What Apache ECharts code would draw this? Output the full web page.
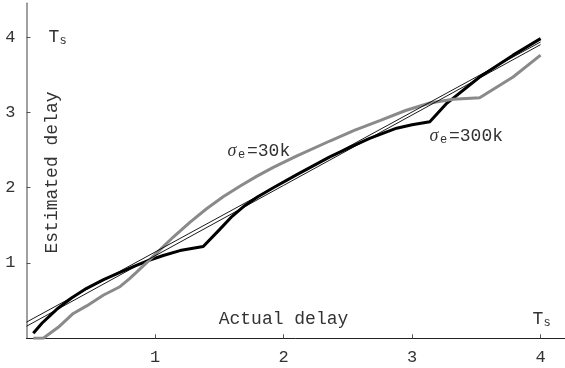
<!DOCTYPE html>
<html>
<head>
<meta charset="utf-8">
<script src="https://cdn.jsdelivr.net/npm/echarts@6/dist/echarts.min.js"></script>
<style>html,body{margin:0;padding:0;background:#fff}#c{width:565px;height:368px}</style>
</head>
<body>
<div id="c"></div>
<script>
// ---- data ----
var xTickValues = [1, 2, 3, 4];
var yTickValues = [1, 2, 3, 4];

var black300k = [
  [0.053, 0.066], [0.12, 0.2], [0.235, 0.385], [0.35, 0.535], [0.468, 0.664], [0.6, 0.78],
  [0.727, 0.875], [0.85, 0.965], [0.96, 1.04], [1.064, 1.1], [1.194, 1.165], [1.375, 1.218],
  [1.5, 1.44], [1.6, 1.62], [1.7, 1.765], [1.8, 1.88], [1.92, 2.0], [2.1, 2.17],
  [2.23, 2.29], [2.36, 2.41], [2.52, 2.54], [2.67, 2.655], [2.88, 2.79], [3.0, 2.835],
  [3.138, 2.876], [3.27, 3.12], [3.526, 3.47], [3.786, 3.76], [4.0, 3.98]
];
var gray30k = [
  [0.053, 0.0], [0.13, 0.0], [0.247, 0.146], [0.364, 0.33], [0.468, 0.43], [0.6, 0.575],
  [0.727, 0.685], [0.8, 0.79], [0.857, 0.88], [0.935, 1.005], [1.038, 1.175], [1.142, 1.345],
  [1.271, 1.54], [1.401, 1.72], [1.53, 1.88], [1.66, 2.02], [1.79, 2.15], [1.92, 2.27],
  [2.1, 2.42], [2.36, 2.62], [2.55, 2.76], [2.749, 2.89], [2.95, 3.025], [3.138, 3.125],
  [3.32, 3.175], [3.526, 3.195], [3.786, 3.47], [4.0, 3.76]
];
var fitA = [[0, 0.215], [4, 3.935]];
var fitB = [[0, 0.16], [4, 3.9]];

var axisLabelText = 'Actual delay';
var valueLabelText = 'Estimated delay';
var mono = '"Liberation Mono", "DejaVu Sans Mono", monospace';

var chart = echarts.init(document.getElementById('c'), null, {renderer: 'canvas'});

function txt(x, y, s, size, opts) {
  opts = opts || {};
  return {
    type: 'text', x: x, y: y, rotation: opts.rot || 0, z: 100,
    style: {
      text: s, fontFamily: opts.font || mono, fontSize: size,
      fontStyle: opts.italic ? 'italic' : 'normal',
      fill: opts.fill || '#333', align: opts.align || 'left', verticalAlign: 'middle'
    }
  };
}

chart.setOption({
  animation: false,
  backgroundColor: '#fff',
  grid: {left: 26.5, right: 0, top: 3.2, bottom: 29.7, containLabel: false},
  xAxis: {
    type: 'value', min: 0, max: 4.19, interval: 1,
    axisLine: {show: true, onZero: false, lineStyle: {color: '#222', width: 1}},
    axisTick: {show: true, inside: true, length: 4, customValues: xTickValues, lineStyle: {color: '#555'}},
    axisLabel: {show: true, customValues: xTickValues, margin: 11, fontFamily: mono, fontSize: 17, color: '#333'},
    splitLine: {show: false}
  },
  yAxis: {
    type: 'value', min: 0, max: 4.45, interval: 1,
    axisLine: {show: true, onZero: false, lineStyle: {color: '#808080', width: 1.5}},
    axisTick: {show: true, inside: true, length: 4, customValues: yTickValues, lineStyle: {color: '#555'}},
    axisLabel: {show: true, customValues: yTickValues, margin: 11, fontFamily: mono, fontSize: 17, color: '#333'},
    splitLine: {show: false}
  },
  series: [
    {type: 'line', data: black300k, showSymbol: false, lineStyle: {color: '#000', width: 3}, z: 2},
    {type: 'line', data: gray30k, showSymbol: false, lineStyle: {color: '#8a8a8a', width: 3}, z: 3},
    {type: 'line', data: fitA, showSymbol: false, lineStyle: {color: '#000', width: 0.9}, z: 4},
    {type: 'line', data: fitB, showSymbol: false, lineStyle: {color: '#000', width: 0.9}, z: 4}
  ],
  graphic: [
    txt(48.5, 37, 'T', 18),
    txt(59.5, 40.5, 's', 12),
    txt(532.5, 319, 'T', 18),
    txt(543.5, 322.5, 's', 12),
    txt(283.5, 319, axisLabelText, 18, {align: 'center'}),
    txt(52.5, 172.5, valueLabelText, 18, {align: 'center', rot: Math.PI / 2}),
    txt(227.5, 151, 'σ', 18, {font: '"Liberation Serif", serif', italic: true}),
    txt(238, 155, 'e', 12),
    txt(247, 151, '=30k', 18),
    txt(429.5, 136, 'σ', 18, {font: '"Liberation Serif", serif', italic: true}),
    txt(440, 140, 'e', 12),
    txt(449, 136, '=300k', 18)
  ]
});
</script>
</body>
</html>
